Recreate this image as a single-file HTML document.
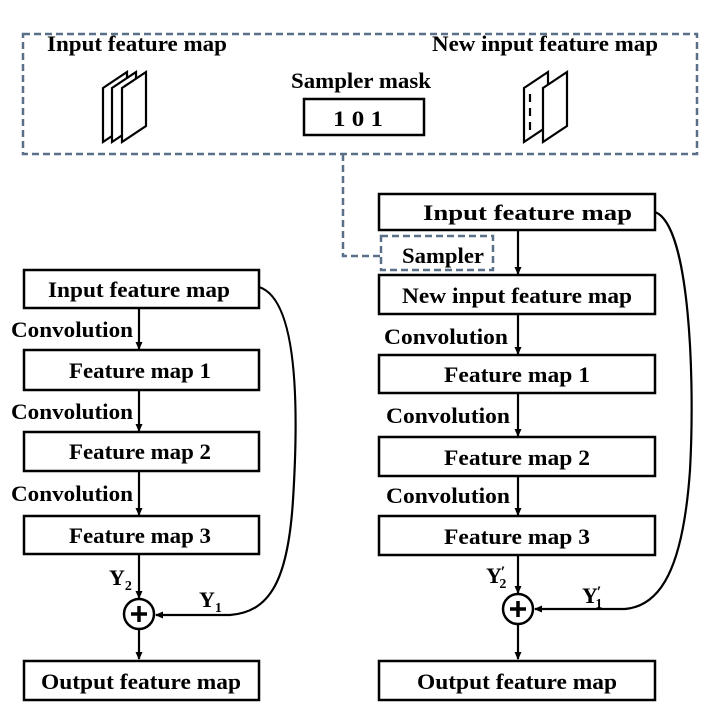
<!DOCTYPE html>
<html><head><style>body{margin:0;background:#fff}svg{display:block}text{font-family:"Liberation Serif",serif;font-weight:bold;font-size:22px;fill:#000}</style></head>
<body>
<svg width="718" height="717" viewBox="0 0 718 717">
<defs><marker id="a" markerWidth="8" markerHeight="8" refX="7" refY="4" orient="auto" markerUnits="userSpaceOnUse"><path d="M0,0.5 L8,4 L0,7.5 Z" fill="#000"/></marker></defs>
<g fill="none" stroke="#5a7088" stroke-width="2.5" stroke-dasharray="7,4">
<rect x="23" y="34" width="674" height="120"/>
<polyline points="343,154 343,256 380,256"/>
<rect x="381" y="236" width="112" height="34"/>
</g>
<text x="47" y="51" textLength="180" lengthAdjust="spacingAndGlyphs">Input feature map</text>
<text x="432" y="51" textLength="226" lengthAdjust="spacingAndGlyphs">New input feature map</text>
<text x="291" y="88" textLength="140" lengthAdjust="spacingAndGlyphs">Sampler mask</text>
<rect x="304" y="99" width="120" height="36" fill="none" stroke="#000" stroke-width="2.5"/>
<text x="333" y="126" textLength="50" lengthAdjust="spacingAndGlyphs">1 0 1</text>
<g fill="#fff" stroke="#000" stroke-width="2.2">
<polygon points="103,88 127,72 127,126 103,142"/>
<polygon points="112,88 136,72 136,126 112,142"/>
<polygon points="122,88 146,72 146,126 122,142"/>
<polygon points="524,88 548,72 548,126 524,142"/>
<polygon points="543,88 567,72 567,126 543,142"/>
</g>
<line x1="530" y1="94" x2="530" y2="136" stroke="#000" stroke-width="2.2" stroke-dasharray="8,6"/>
<text x="402" y="263" textLength="82" lengthAdjust="spacingAndGlyphs">Sampler</text>
<g fill="none" stroke="#000" stroke-width="2.5">
<rect x="379" y="194" width="276" height="36"/>
<rect x="379" y="275" width="276" height="39"/>
<rect x="379" y="355" width="276" height="38"/>
<rect x="379" y="437" width="276" height="39"/>
<rect x="379" y="516" width="276" height="39"/>
<rect x="379" y="661" width="276" height="39"/>
<rect x="24" y="270" width="235" height="38"/>
<rect x="24" y="350" width="235" height="40"/>
<rect x="24" y="432" width="235" height="39"/>
<rect x="24" y="516" width="235" height="38"/>
<rect x="24" y="661" width="235" height="39"/>
<circle cx="139" cy="614" r="15"/>
<circle cx="518" cy="609" r="15"/>
</g>
<g stroke="#000" stroke-width="2.2" marker-end="url(#a)" fill="none">
<line x1="518" y1="230" x2="518" y2="274"/>
<line x1="518" y1="314" x2="518" y2="354"/>
<line x1="518" y1="393" x2="518" y2="436"/>
<line x1="518" y1="476" x2="518" y2="515"/>
<line x1="518" y1="555" x2="518" y2="593"/>
<line x1="518" y1="624" x2="518" y2="659"/>
<line x1="139" y1="308" x2="139" y2="349"/>
<line x1="139" y1="390" x2="139" y2="431"/>
<line x1="139" y1="471" x2="139" y2="515"/>
<line x1="139" y1="554" x2="139" y2="598"/>
<line x1="139" y1="629" x2="139" y2="659"/>
<path d="M259,287 C300,300 298,420 293,500 C288,580 270,612 230,615 L156,615"/>
<path d="M655,212 C690,225 695,380 690,470 C683,570 660,606 625,609 L535,609"/>
</g>
<g stroke="#000" stroke-width="3.5"><line x1="131" y1="614" x2="147" y2="614"/><line x1="139" y1="606" x2="139" y2="622"/><line x1="510" y1="609" x2="526" y2="609"/><line x1="518" y1="601" x2="518" y2="617"/></g>
<text x="423" y="220" textLength="209" lengthAdjust="spacingAndGlyphs">Input feature map</text>
<text x="402" y="303" textLength="230" lengthAdjust="spacingAndGlyphs">New input feature map</text>
<text x="444" y="382" textLength="146" lengthAdjust="spacingAndGlyphs">Feature map 1</text>
<text x="444" y="465" textLength="146" lengthAdjust="spacingAndGlyphs">Feature map 2</text>
<text x="444" y="544" textLength="146" lengthAdjust="spacingAndGlyphs">Feature map 3</text>
<text x="417" y="689" textLength="200" lengthAdjust="spacingAndGlyphs">Output feature map</text>
<text x="384" y="344" textLength="124" lengthAdjust="spacingAndGlyphs">Convolution</text>
<text x="386" y="423" textLength="124" lengthAdjust="spacingAndGlyphs">Convolution</text>
<text x="386" y="503" textLength="124" lengthAdjust="spacingAndGlyphs">Convolution</text>
<text x="48" y="297" textLength="182" lengthAdjust="spacingAndGlyphs">Input feature map</text>
<text x="69" y="378" textLength="142" lengthAdjust="spacingAndGlyphs">Feature map 1</text>
<text x="69" y="459" textLength="142" lengthAdjust="spacingAndGlyphs">Feature map 2</text>
<text x="69" y="543" textLength="142" lengthAdjust="spacingAndGlyphs">Feature map 3</text>
<text x="41" y="689" textLength="200" lengthAdjust="spacingAndGlyphs">Output feature map</text>
<text x="11" y="337" textLength="122" lengthAdjust="spacingAndGlyphs">Convolution</text>
<text x="11" y="419" textLength="122" lengthAdjust="spacingAndGlyphs">Convolution</text>
<text x="11" y="501" textLength="122" lengthAdjust="spacingAndGlyphs">Convolution</text>
<text x="109" y="585">Y<tspan font-size="14" dy="5">2</tspan></text>
<text x="199" y="607">Y<tspan font-size="14" dy="5">1</tspan></text>
<text x="486" y="583">Y<tspan font-size="16" dy="-6" dx="-1">′</tspan><tspan font-size="14" dy="11" dx="-6">2</tspan></text>
<text x="582" y="603">Y<tspan font-size="16" dy="-6" dx="-1">′</tspan><tspan font-size="14" dy="11" dx="-6">1</tspan></text>
</svg>
</body></html>
